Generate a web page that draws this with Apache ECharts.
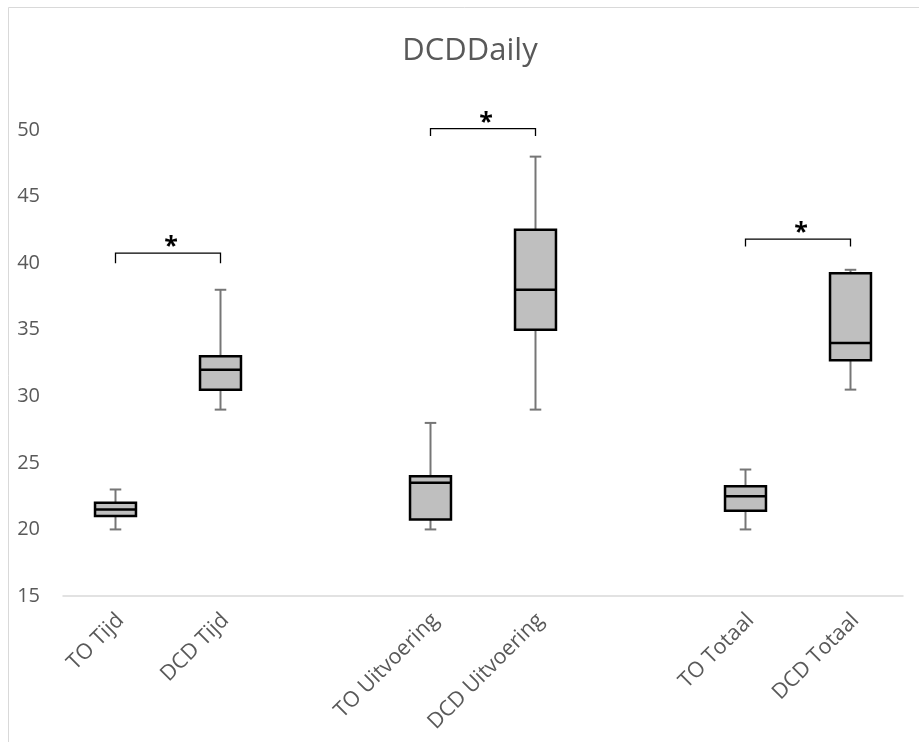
<!DOCTYPE html>
<html>
<head>
<meta charset="utf-8">
<script src="https://cdn.jsdelivr.net/npm/echarts@6/dist/echarts.min.js"></script>
<style>html,body{margin:0;padding:0;background:#fff;}#chart{width:919px;height:742px;}</style>
</head>
<body>
<div id="chart"></div>
<script>
// ---- data ----
const categories = ['TO Tijd', 'DCD Tijd', '', 'TO Uitvoering', 'DCD Uitvoering', '', 'TO Totaal', 'DCD Totaal'];
const whiskerMin = [20, 29, null, 20, 29, null, 20, 30.5];
const quartile1  = [21, 30.5, null, 20.75, 35, null, 21.4, 32.7];
const medians    = [21.5, 32, null, 23.5, 38, null, 22.5, 34];
const quartile3  = [22, 33, null, 24, 42.5, null, 23.25, 39.25];
const whiskerMax = [23, 38, null, 28, 48, null, 24.5, 39.5];
const yMin = 15, yMax = 50, yStep = 5;

// significance brackets
const bracketFrom = [0, 3, 6];
const bracketTo   = [1, 4, 7];
const bracketTop  = [40.75, 50.1, 41.8];
const bracketLeg  = [40.0, 49.55, 41.25];
const bracketMark = ['*', '*', '*'];

// ---- build ----
const boxData = [];
categories.forEach((c, i) => {
  if (medians[i] != null) boxData.push([i, whiskerMin[i], quartile1[i], medians[i], quartile3[i], whiskerMax[i]]);
});
const bracketData = bracketFrom.map((f, i) => [f, bracketTo[i], bracketTop[i], bracketLeg[i], bracketMark[i]]);

const chart = echarts.init(document.getElementById('chart'), null, {renderer: 'canvas'});
const FONT = 'Open Sans';
const option = {
  animation: false,
  backgroundColor: '#fff',
  textStyle: {fontFamily: FONT},
  title: {
    text: 'DCDDaily',
    left: 465, top: 31, textAlign: 'center',
    textStyle: {fontFamily: FONT, fontSize: 31, fontWeight: 'normal', color: '#595959'}
  },
  graphic: [{
    type: 'rect', silent: true, z: -1,
    shape: {x: 8.5, y: 7.5, width: 1000, height: 1000},
    style: {fill: 'none', stroke: '#d9d9d9', lineWidth: 1}
  }],
  grid: {left: 63, right: 16, top: 130, bottom: 146},
  xAxis: {
    type: 'category', data: categories,
    axisLine: {lineStyle: {color: '#d9d9d9', width: 1.5}},
    axisTick: {show: false},
    splitLine: {show: false},
    axisLabel: {interval: 0, rotate: 45, margin: 16, verticalAlign: 'top', lineHeight: 14, fontSize: 21.5, color: '#595959', fontFamily: FONT}
  },
  yAxis: {
    type: 'value', min: yMin, max: yMax, interval: yStep,
    axisLine: {show: false}, axisTick: {show: false}, splitLine: {show: false},
    axisLabel: {fontSize: 20, color: '#595959', margin: 23, fontFamily: FONT}
  },
  series: [{
    type: 'custom',
    data: boxData,
    encode: {x: 0, y: [1, 2, 3, 4, 5]},
    renderItem: function (params, api) {
      const x = api.value(0);
      const pMin = api.coord([x, api.value(1)]);
      const pQ1 = api.coord([x, api.value(2)]);
      const pMed = api.coord([x, api.value(3)]);
      const pQ3 = api.coord([x, api.value(4)]);
      const pMax = api.coord([x, api.value(5)]);
      const band = api.size([1, 0])[0];
      const bw = band * 0.39;
      const cw = band * 0.11;
      const cx = pMed[0];
      const wStyle = {stroke: '#767676', lineWidth: 2};
      const bStyle = {stroke: '#000', lineWidth: 2.5};
      return {
        type: 'group',
        children: [
          {type: 'line', shape: {x1: cx, y1: pMax[1], x2: cx, y2: pQ3[1]}, style: wStyle},
          {type: 'line', shape: {x1: cx, y1: pMin[1], x2: cx, y2: pQ1[1]}, style: wStyle},
          {type: 'line', shape: {x1: cx - cw / 2, y1: pMax[1], x2: cx + cw / 2, y2: pMax[1]}, style: wStyle},
          {type: 'line', shape: {x1: cx - cw / 2, y1: pMin[1], x2: cx + cw / 2, y2: pMin[1]}, style: wStyle},
          {type: 'rect', shape: {x: cx - bw / 2, y: pQ3[1], width: bw, height: pQ1[1] - pQ3[1]},
            style: {fill: '#bfbfbf', stroke: '#000', lineWidth: 2.5}},
          {type: 'line', shape: {x1: cx - bw / 2, y1: pMed[1], x2: cx + bw / 2, y2: pMed[1]}, style: bStyle}
        ]
      };
    }
  }, {
    type: 'custom',
    data: bracketData,
    clip: false,
    encode: {x: [0, 1], y: [2, 3]},
    renderItem: function (params, api) {
      const f = api.value(0), t = api.value(1);
      const a = api.coord([f, api.value(3)]);
      const b = api.coord([f, api.value(2)]);
      const c = api.coord([t, api.value(2)]);
      const d = api.coord([t, api.value(3)]);
      const mark = bracketData[params.dataIndex][4];
      return {
        type: 'group',
        children: [
          {type: 'polyline', shape: {points: [a, b, c, d]}, style: {stroke: '#000', lineWidth: 1.3, fill: 'none'}},
          {type: 'text', x: (b[0] + c[0]) / 2 + 3, y: b[1] - 6,
            style: {text: mark, fontSize: 25, fontWeight: 'bold', fontFamily: FONT, fill: '#000', align: 'center', verticalAlign: 'middle'}}
        ]
      };
    }
  }]
};
chart.setOption(option);
</script>
</body>
</html>
